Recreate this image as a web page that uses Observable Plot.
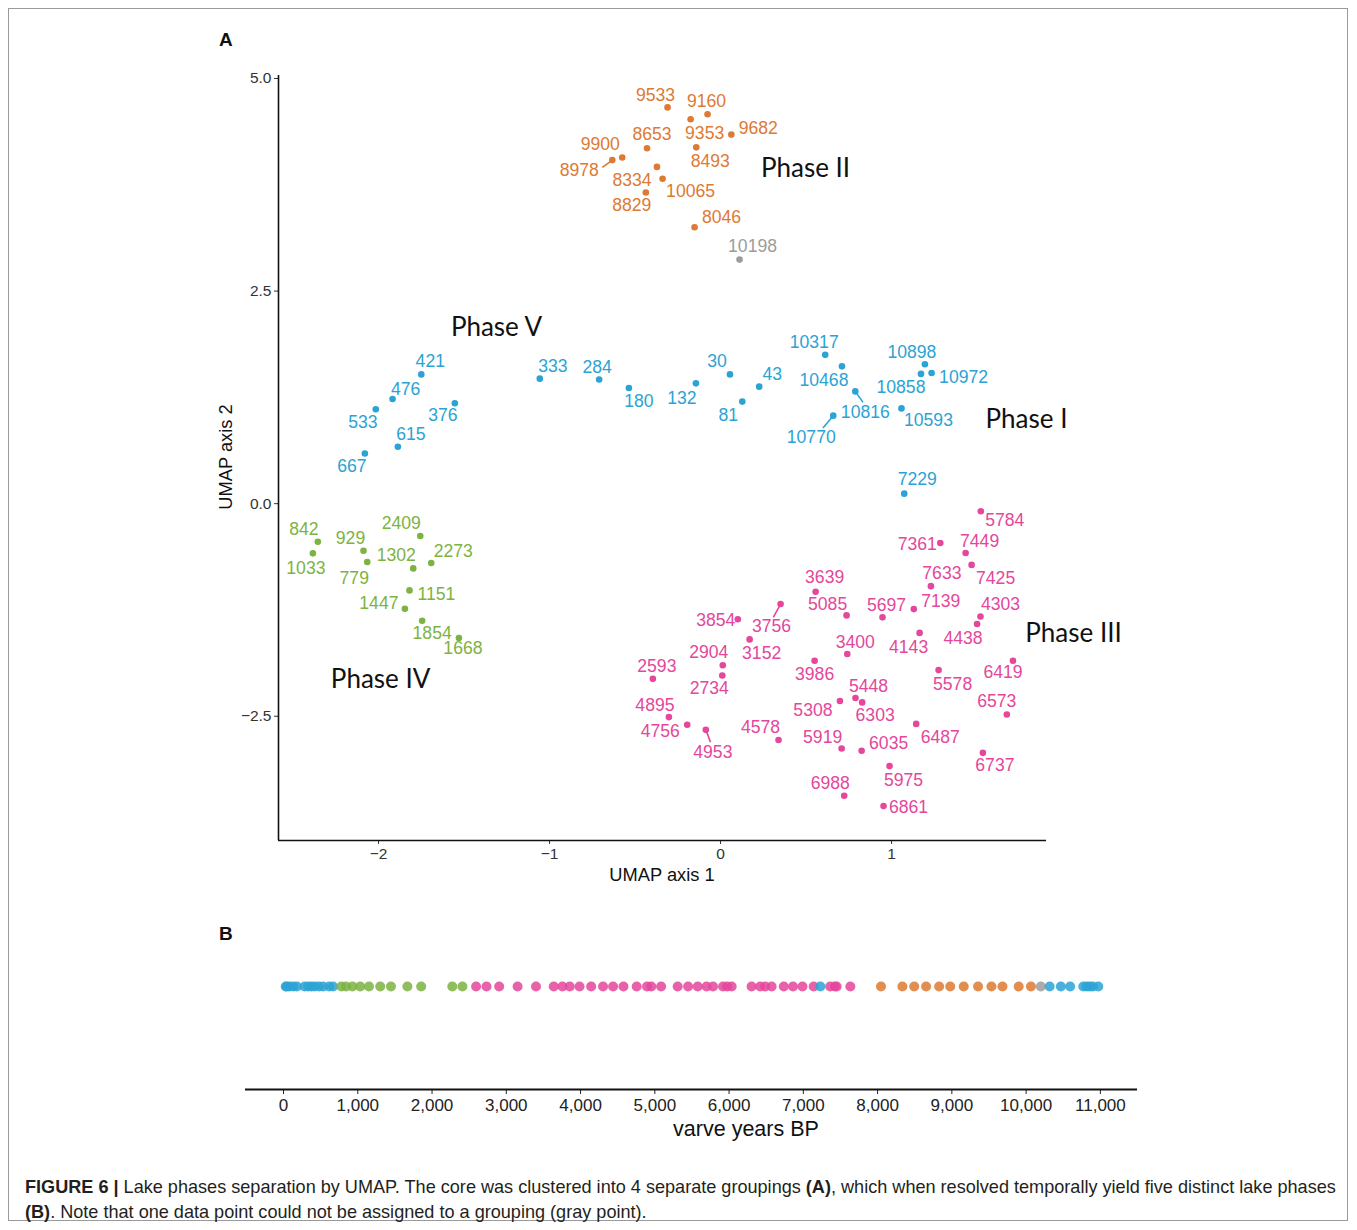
<!DOCTYPE html>
<html><head><meta charset="utf-8">
<script src="https://cdn.jsdelivr.net/npm/d3@7"></script>
<script src="https://cdn.jsdelivr.net/npm/@observablehq/plot@0.6"></script>
<style>
body{margin:0;background:#fff;font-family:"Liberation Sans",Arial,sans-serif;}
#page{position:relative;width:1357px;height:1230px;overflow:hidden;background:#fff;}
#border{position:absolute;left:8px;top:8px;width:1340px;height:1213px;border:1px solid #9a9a9a;box-sizing:border-box;}
.abs{position:absolute;white-space:nowrap;}
.panel{font-weight:bold;font-size:19px;color:#111;}
.axt{font-size:18.3px;color:#111;}
#caption{left:25px;top:1175px;font-size:18.1px;line-height:25px;color:#231f20;}
</style></head><body><div id="page">
<div id="border"></div>
<div class="abs panel" style="left:219px;top:29px;">A</div>
<div class="abs panel" style="left:219px;top:923px;">B</div>
<div id="plotA" class="abs" style="left:200px;top:60px;"></div>
<div id="plotB" class="abs" style="left:200px;top:950px;"></div>
<div class="abs axt" style="left:662px;top:875px;transform:translate(-50%,-50%);">UMAP axis 1</div>
<div class="abs axt" style="left:226px;top:457px;transform:translate(-50%,-50%) rotate(-90deg);">UMAP axis 2</div>
<div class="abs axt" style="left:746px;top:1129px;transform:translate(-50%,-50%);font-size:21.5px;">varve years BP</div>
<div id="caption" class="abs"><b>FIGURE 6 |</b> Lake phases separation by UMAP. The core was clustered into 4 separate groupings <b>(A)</b>, which when resolved temporally yield five distinct lake phases<br><b>(B)</b>. Note that one data point could not be assigned to a grouping (gray point).</div>
</div>
<script>
// ---- data ----
const varveYears = [
  9533, 9160, 9353, 9682, 8493, 8653, 9900, 8978, 8334, 10065, 8829, 8046,
  10198,
  421, 476, 533, 376, 615, 667, 333, 284, 180, 132, 30, 81, 43,
  10317, 10468, 10816, 10770, 10898, 10858, 10972, 10593, 7229,
  842, 1033, 929, 779, 2409, 1302, 2273, 1151, 1447, 1854, 1668,
  3639, 5085, 3854, 3756, 3152, 2904, 2734, 2593, 4895, 4756, 4953, 4578,
  3986, 3400, 5308, 5919, 5784, 7361, 7449, 7425, 7633, 7139, 5697, 4303,
  4438, 4143, 5578, 6419, 5448, 6303, 6573, 6487, 6035, 6737, 5975, 6988, 6861
];
const umap1 = [
  -0.310, -0.076, -0.175, 0.063, -0.142, -0.430, -0.575, -0.633, -0.372, -0.339, -0.437, -0.152,
  0.111,
  -1.750, -1.918, -2.016, -1.554, -1.887, -2.080, -1.057, -0.710, -0.536, -0.144, 0.055, 0.127, 0.226,
  0.612, 0.710, 0.788, 0.659, 1.195, 1.172, 1.234, 1.058, 1.074,
  -2.355, -2.384, -2.088, -2.066, -1.756, -1.797, -1.692, -1.819, -1.846, -1.745, -1.530,
  0.556, 0.737, 0.101, 0.351, 0.170, 0.013, 0.010, -0.396, -0.302, -0.195, -0.086, 0.339,
  0.550, 0.741, 0.698, 0.708, 1.522, 1.285, 1.433, 1.468, 1.230, 1.130, 0.947, 1.520,
  1.500, 1.164, 1.275, 1.710, 0.789, 0.828, 1.674, 1.144, 0.825, 1.534, 0.988, 0.723, 0.953
];
const umap2 = [
  4.66, 4.58, 4.52, 4.34, 4.19, 4.18, 4.07, 4.04, 3.96, 3.82, 3.66, 3.25,
  2.87,
  1.52, 1.23, 1.11, 1.18, 0.67, 0.59, 1.47, 1.46, 1.36, 1.415, 1.52, 1.20, 1.376,
  1.75, 1.615, 1.32, 1.035, 1.64, 1.526, 1.537, 1.12, 0.118,
  -0.447, -0.584, -0.553, -0.686, -0.38, -0.761, -0.698, -1.02, -1.235, -1.376, -1.58,
  -1.035, -1.314, -1.36, -1.18, -1.596, -1.90, -2.02, -2.06, -2.51, -2.60, -2.66, -2.78,
  -1.847, -1.768, -2.32, -2.88, -0.09, -0.463, -0.58, -0.72, -0.97, -1.24, -1.337, -1.326,
  -1.415, -1.52, -1.957, -1.847, -2.286, -2.337, -2.48, -2.59, -2.906, -2.93, -3.086, -3.435, -3.556
];
// cluster of each point: 1 = Phase I/V (blue), 2 = Phase II, 3 = Phase III, 4 = Phase IV, 0 = unassigned
const cluster = [
  2,2,2,2,2,2,2,2,2,2,2,2,
  0,
  1,1,1,1,1,1,1,1,1,1,1,1,1,
  1,1,1,1,1,1,1,1,1,
  4,4,4,4,4,4,4,4,4,4,4,
  3,3,3,3,3,3,3,3,3,3,3,3,
  3,3,3,3,3,3,3,3,3,3,3,3,
  3,3,3,3,3,3,3,3,3,3,3,3,3
];
const clusterColors = {0: "#9c9c9c", 1: "#2ba3d5", 2: "#dd7a33", 3: "#e4479b", 4: "#7cb342"};
// label offsets (repel nudges) in pixels
const labelDx = [
  -12, -1, 14, 27, 14, 5, -22, -33, -25, 28, -14, 27,
  13,
  9, 13, -13, -12, 13, -13, 13, -2, 10, -14, -13, -14, 13,
  -11, -18, 10, -22, -13, -20, 32, 27, 13,
  -14, -7, -13, -13, -19, -17, 22, 27, -26, 10, 4,
  9, -19, -22, -9, 12, -14, -13, 4, -14, -27, 7, -18,
  0, 8, -27, -19, 24, -23, 14, 24, 11, 27, 4, 20,
  -14, -11, 14, -10, 13, 13, -10, 24, 27, 12, 14, -14, 25
];
const labelDy = [
  -12, -13, 14, -6, 14, -14, -13, 10, 13, 13, 13, -10,
  -13,
  -13, -10, 13, 12, -12, 13, -12, -12, 13, 15, -13, 14, -12,
  -12, 14, 21, 22, -12, 13, 4, 12, -14,
  -12, 15, -12, 16, -13, -13, -12, 4, -5, 13, 10,
  -14, -11, 1, 22, 14, -13, 13, -12, -12, 7, 22, -13,
  14, -12, 9, -11, 9, 1, -12, 13, -13, -8, -12, -12,
  14, 14, 14, 12, -12, 13, -13, 13, -7, 13, 14, -12, 1
];
// leader segments (pixel vectors from the point)
const segYears = [8978, 10816, 10770, 3756, 4953];
const segDx = [-10, 7.7, -10.3, -7.3, 4.7];
const segDy = [7.3, 11, 12.3, 13.3, 12.3];
// phase annotations
const phaseNames = ["Phase II", "Phase V", "Phase I", "Phase IV", "Phase III"];
const phaseX = [0.497, -1.31, 1.789, -1.988, 2.064];
const phaseY = [3.94, 2.07, 0.987, -2.07, -1.53];
// axes
const xDomainA = [-2.585, 1.906];
const yDomainA = [-3.961, 5.035];
const xTicksA = [-2, -1, 0, 1];
const yTicksA = [-2.5, 0, 2.5, 5];
const xDomainB = [-512, 11500];
const xTicksB = d3.range(0, 11001, 1000);

// ---- build ----
const pts = varveYears.map((v, i) => ({varve: v, x: umap1[i], y: umap2[i], c: cluster[i], dx: labelDx[i], dy: labelDy[i]}));
const byYear = new Map(pts.map(p => [p.varve, p]));

const WA = 960, HA = 840, mlA = 78, mrA = 114, mtA = 15, mbA = 60;
const kx = (WA - mlA - mrA) / (xDomainA[1] - xDomainA[0]);
const ky = (HA - mtA - mbA) / (yDomainA[1] - yDomainA[0]);
const segs = segYears.map((yr, i) => {
  const p = byYear.get(yr);
  return {x1: p.x, y1: p.y, x2: p.x + segDx[i] / kx, y2: p.y - segDy[i] / ky, c: p.c};
});
const phases = phaseNames.map((n, i) => ({name: n, x: phaseX[i], y: phaseY[i]}));

const labelMarks = pts.map(p => Plot.text([p], {
  x: "x", y: "y", text: d => String(d.varve), fill: clusterColors[p.c],
  dx: p.dx, dy: p.dy, fontSize: 17.6, fontFamily: "Liberation Sans, Arial, sans-serif"
}));

const plotA = Plot.plot({
  width: WA, height: HA, marginLeft: mlA, marginRight: mrA, marginTop: mtA, marginBottom: mbA,
  style: {fontFamily: "Liberation Sans, Arial, sans-serif", fontSize: "15.5px", background: "transparent", overflow: "visible"},
  x: {domain: xDomainA, label: null},
  y: {domain: yDomainA, label: null},
  marks: [
    Plot.axisX({ticks: xTicksA, tickSize: 4, tickPadding: 3, fontSize: 15.5, color: "#333", label: null, tickFormat: d3.format("d")}),
    Plot.axisY({ticks: yTicksA, tickSize: 4, tickPadding: 3, fontSize: 15.5, color: "#333", label: null, tickFormat: d3.format(".1f")}),
    Plot.ruleX([xDomainA[0]], {stroke: "#111", strokeWidth: 1.6}),
    Plot.ruleY([yDomainA[0]], {stroke: "#111", strokeWidth: 1.6}),
    Plot.link(segs, {x1: "x1", y1: "y1", x2: "x2", y2: "y2", stroke: d => clusterColors[d.c], strokeWidth: 1.6}),
    Plot.dot(pts, {x: "x", y: "y", r: 3.3, fill: d => clusterColors[d.c], stroke: "none"}),
    ...labelMarks,
    Plot.text(phases, {x: "x", y: "y", text: "name", fontSize: 26, fontFamily: "Lato, 'Open Sans', sans-serif", fill: "#111"})
  ]
});
document.getElementById("plotA").appendChild(plotA);

const ptsB = pts.slice().sort((a, b) => a.varve - b.varve);
const plotB = Plot.plot({
  width: 960, height: 200, marginLeft: 45, marginRight: 23, marginTop: 0, marginBottom: 61,
  style: {fontFamily: "Liberation Sans, Arial, sans-serif", fontSize: "17px", background: "transparent", overflow: "visible"},
  x: {domain: xDomainB, label: null},
  y: {domain: [0, 1], range: [139, 36], axis: null},
  marks: [
    Plot.axisX({ticks: xTicksB, tickSize: 5, tickPadding: 4, fontSize: 17, color: "#222", label: null, tickFormat: d3.format(",")}),
    Plot.ruleY([0], {stroke: "#111", strokeWidth: 2}),
    Plot.dot(ptsB, {x: "varve", y: () => 1, r: 5, fill: d => clusterColors[d.c], fillOpacity: 0.85, stroke: "none"})
  ]
});
document.getElementById("plotB").appendChild(plotB);
</script>
</body></html>
